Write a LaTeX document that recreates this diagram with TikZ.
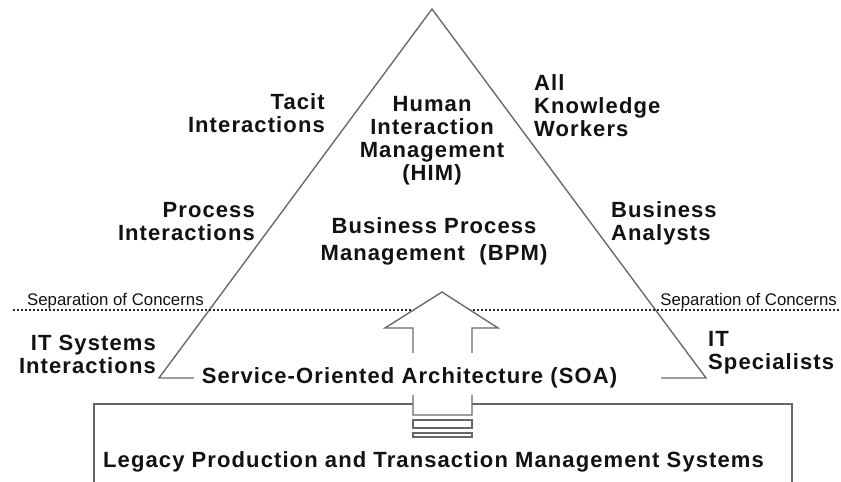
\documentclass[tikz,border=0pt]{standalone}
\usepackage{fontspec}
\setmainfont{Liberation Sans}[LetterSpace=5]
\newfontfamily\sepfont{Liberation Sans}
\begin{document}
\begin{tikzpicture}[x=1pt,y=-1pt,
  lbl/.style={inner sep=0pt,font=\fontsize{22}{23}\selectfont\bfseries,text=black!93},
  sep/.style={inner sep=0pt,font=\fontsize{16.8}{18}\sepfont,text=black!93},
  edge/.style={draw=black!58,line width=1.4pt,line join=miter},
  boxline/.style={draw=black!60,line width=1.4pt}]
\useasboundingbox (0,0) rectangle (841,482);
\clip (0,0) rectangle (841,482);
\fill[white] (0,0) rectangle (841,482);

% base layer of legacy systems
\draw[boxline] (94,404) rectangle (792,495);

% the pyramid
\coordinate (apexL) at (159,378);
\coordinate (apexT) at (432,9);
\coordinate (apexR) at (706,378);
\draw[edge] (apexL) -- (apexT) -- (apexR) -- cycle;

% separation of concerns
\coordinate (sepL) at (13,310);
\coordinate (sepR) at (840,310);
\draw[black!85,line width=2pt,dash pattern=on 2pt off 2pt] (sepL) -- (sepR);

% the upward arrow, filled white so it hides what lies behind it
\draw[edge,fill=white] (442,292) -- (498,328) -- (472,328) -- (472,415)
  -- (413,415) -- (413,328) -- (385,328) -- cycle;
\draw[boxline,line width=1.2pt] (413,420) rectangle (472,428);
\draw[boxline,line width=1.2pt] (413,433) rectangle (472,437);

% white band behind the SOA label
\fill[white] (194,353) rectangle (661,395);

% labels (base anchor sits on the last line)
\node[lbl,anchor=base east,align=right] (tacit) at (325,132) {Tacit\\Interactions};
\node[lbl,anchor=base,align=center] (him) at (432,180.5) {Human\\Interaction\\Management\\(HIM)};
\node[lbl,anchor=base west,align=left] (akw) at (534,136) {All\\Knowledge\\Workers};
\node[lbl,anchor=base east,align=right] (procint) at (255,240) {Process\\Interactions};
\node[lbl,anchor=base,align=center,font=\fontsize{22}{27}\selectfont\bfseries] (bpm) at (434,260) {Business Process\\Management\ \ (BPM)};
\node[lbl,anchor=base west,align=left] (ba) at (611,240) {Business\\Analysts};
\node[sep,anchor=base west] (sepl) at (27,305) {Separation of Concerns};
\node[sep,anchor=base east] (sepr) at (837,305) {Separation of Concerns};
\node[lbl,anchor=base east,align=right] (itsys) at (156,373) {IT Systems\\Interactions};
\node[lbl,anchor=base west,align=left] (itspec) at (708,369) {IT\\Specialists};
\node[lbl,anchor=base] (soa) at (409.5,383) {Service-Oriented Architecture (SOA)};
\node[lbl,anchor=base west] (legacy) at (103,467) {Legacy Production and Transaction Management Systems};
\end{tikzpicture}
\end{document}
